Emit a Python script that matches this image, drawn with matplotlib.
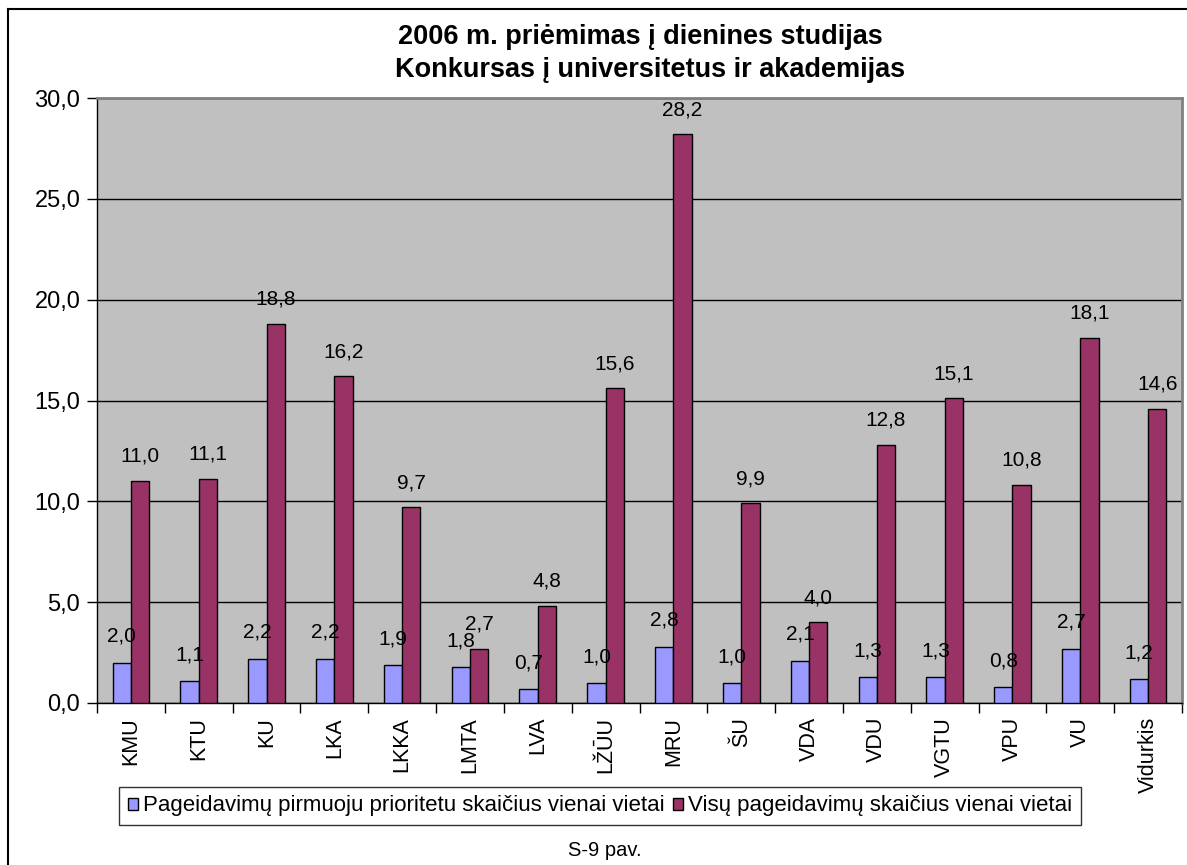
import numpy as np
import matplotlib
matplotlib.use('Agg')
import matplotlib.pyplot as plt
from matplotlib.lines import Line2D

plt.rcParams['font.family'] = ['Liberation Sans', 'DejaVu Sans']

categories = ['KMU', 'KTU', 'KU', 'LKA', 'LKKA', 'LMTA', 'LVA', 'LŽŪU', 'MRU',
              'ŠU', 'VDA', 'VDU', 'VGTU', 'VPU', 'VU', 'Vidurkis']
first_priority = [2.0, 1.1, 2.2, 2.2, 1.9, 1.8, 0.7, 1.0, 2.8, 1.0, 2.1, 1.3, 1.3, 0.8, 2.7, 1.2]
all_wishes = [11.0, 11.1, 18.8, 16.2, 9.7, 2.7, 4.8, 15.6, 28.2, 9.9, 4.0, 12.8, 15.1, 10.8, 18.1, 14.6]
yticks = [0, 5, 10, 15, 20, 25, 30]

label_blue = 'Pageidavimų pirmuoju prioritetu skaičius vienai vietai'
label_red = 'Visų pageidavimų skaičius vienai vietai'

W, H = 1187, 865
fig = plt.figure(figsize=(W / 100, H / 100), dpi=100)
ax = fig.add_axes([97 / W, 1 - 703 / H, (1182 - 97) / W, (703 - 98) / H])

ax.set_facecolor('#C0C0C0')
x = np.arange(len(categories))
bw = 0.27
ax.bar(x + 0.5 - bw / 2, first_priority, bw, color='#9999FF', edgecolor='black',
       linewidth=1, zorder=3, label=label_blue)
ax.bar(x + 0.5 + bw / 2, all_wishes, bw, color='#993366', edgecolor='black',
       linewidth=1, zorder=3, label=label_red)

def fmt(v):
    return f'{v:.1f}'.replace('.', ',')

for i in range(len(categories)):
    ax.annotate(fmt(first_priority[i]), (x[i] + 0.5 - bw / 2, first_priority[i]),
                xytext=(0, 12), textcoords='offset points', ha='center', va='bottom',
                fontsize=15, zorder=5)
    ax.annotate(fmt(all_wishes[i]), (x[i] + 0.5 + bw / 2, all_wishes[i]),
                xytext=(0, 11), textcoords='offset points', ha='center', va='bottom',
                fontsize=15, zorder=5)

ax.set_xlim(0, len(categories))
ax.set_ylim(0, 30)
ax.set_yticks(yticks)
ax.set_yticklabels([fmt(v) for v in yticks], fontsize=17)
ax.yaxis.grid(True, color='black', linewidth=1, zorder=1)
ax.set_axisbelow(True)

ax.set_xticks(np.arange(len(categories) + 1))
ax.set_xticklabels([])
ax.set_xticks(x + 0.5, minor=True)
ax.set_xticklabels(categories, minor=True, rotation=90, fontsize=15.5)
ax.tick_params(axis='x', which='minor', length=0, pad=10)
ax.tick_params(axis='x', which='major', length=7, width=1, direction='out')
ax.tick_params(axis='y', length=7, width=1, direction='out', pad=5)

for side in ['top', 'right']:
    ax.spines[side].set_color('#808080')
    ax.spines[side].set_linewidth(2)
for side in ['left', 'bottom']:
    ax.spines[side].set_color('black')
    ax.spines[side].set_linewidth(1)

fig.text(640 / W, 1 - 37 / H, '2006 m. priėmimas į dienines studijas',
         ha='center', va='center', fontsize=19.5, fontweight='bold')
fig.text(650 / W, 1 - 70 / H, 'Konkursas į universitetus ir akademijas',
         ha='center', va='center', fontsize=19.5, fontweight='bold')

leg = fig.legend(loc='center', bbox_to_anchor=(600 / W, 1 - 806 / H), ncol=2,
                 fontsize=16, frameon=True, fancybox=False, edgecolor='black',
                 handlelength=0.45, handleheight=0.45, handletextpad=0.25,
                 columnspacing=0.35, borderpad=0.4)
leg.get_frame().set_linewidth(1)

fig.text(605 / W, 1 - 851 / H, 'S-9 pav.', ha='center', va='center', fontsize=14.5)

# outer frame (left and top edges visible)
fig.add_artist(Line2D([8 / W, 8 / W], [0, 1 - 9 / H], color='black', linewidth=1.5,
                      transform=fig.transFigure))
fig.add_artist(Line2D([8 / W, 1], [1 - 9 / H, 1 - 9 / H], color='black', linewidth=1.5,
                      transform=fig.transFigure))

fig.savefig('out.png', dpi=100)
